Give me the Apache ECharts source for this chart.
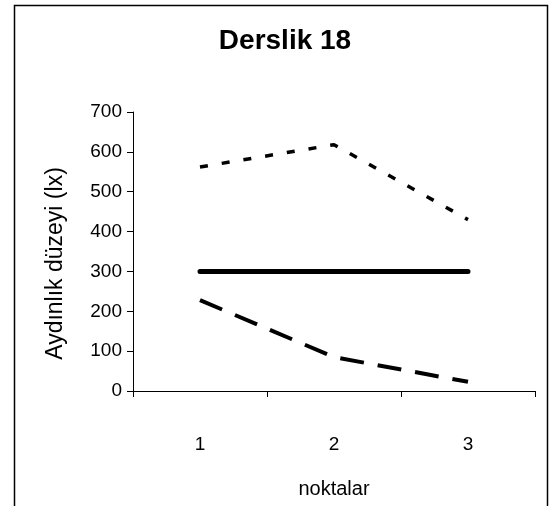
<!DOCTYPE html>
<html>
<head>
<meta charset="utf-8">
<script src="https://cdn.jsdelivr.net/npm/echarts@6/dist/echarts.min.js"></script>
<style>
  html, body { margin: 0; padding: 0; background: #fff; }
  #chart { width: 552px; height: 506px; }
</style>
</head>
<body>
<div id="chart"></div>
<script>
// Measurement points and illuminance levels (lux)
const categories = ['1', '2', '3'];
const upperSeries = [562, 618, 430];   // short-dash line
const standardLevel = [300, 300, 300]; // thick solid reference line
const lowerSeries = [228, 85, 23];     // long-dash line
const yTicks = { min: 0, max: 700, interval: 100 };

const chart = echarts.init(document.getElementById('chart'), null, { renderer: 'canvas' });
const font = 'Liberation Sans, Arial, sans-serif';

chart.setOption({
  animation: false,
  backgroundColor: '#ffffff',
  title: {
    text: 'Derslik 18',
    left: 285,
    top: 27,
    textAlign: 'center',
    padding: 0,
    textStyle: { fontFamily: font, fontSize: 28, fontWeight: 'bold', color: '#000' }
  },
  graphic: [{
    type: 'rect',
    shape: { x: 14.5, y: 5.5, width: 533, height: 530 },
    style: { fill: 'none', stroke: '#000', lineWidth: 1.5 },
    silent: true,
    z: 100
  }],
  grid: { left: 133, right: 17, top: 112, bottom: 115 },
  xAxis: {
    type: 'category',
    data: categories,
    boundaryGap: true,
    name: 'noktalar',
    nameLocation: 'middle',
    nameGap: 88,
    nameTextStyle: { fontFamily: font, fontSize: 20, color: '#000' },
    axisLine: { lineStyle: { color: '#000', width: 1 } },
    axisTick: { show: true, length: 6, alignWithLabel: false, lineStyle: { color: '#000' } },
    axisLabel: { margin: 44, fontFamily: font, fontSize: 19, color: '#000' },
    splitLine: { show: false }
  },
  yAxis: {
    type: 'value',
    min: yTicks.min,
    max: yTicks.max,
    interval: yTicks.interval,
    name: 'Aydınlık düzeyi (lx)',
    nameLocation: 'middle',
    nameGap: 66,
    nameTextStyle: { fontFamily: font, fontSize: 23, color: '#000', padding: [0, 24, 0, 0] },
    axisLine: { show: true, lineStyle: { color: '#000', width: 1 } },
    axisTick: { show: true, length: 6, lineStyle: { color: '#000' } },
    axisLabel: { margin: 11, fontFamily: font, fontSize: 19, color: '#000' },
    splitLine: { show: false }
  },
  series: [
    {
      type: 'line',
      data: upperSeries,
      symbol: 'none',
      lineStyle: { color: '#000', width: 3.5, type: [8, 14] }
    },
    {
      type: 'line',
      data: standardLevel,
      symbol: 'none',
      lineStyle: { color: '#000', width: 5, cap: 'round' }
    },
    {
      type: 'line',
      data: lowerSeries,
      symbol: 'none',
      lineStyle: { color: '#000', width: 4, type: [24, 14] }
    }
  ]
});
</script>
</body>
</html>
